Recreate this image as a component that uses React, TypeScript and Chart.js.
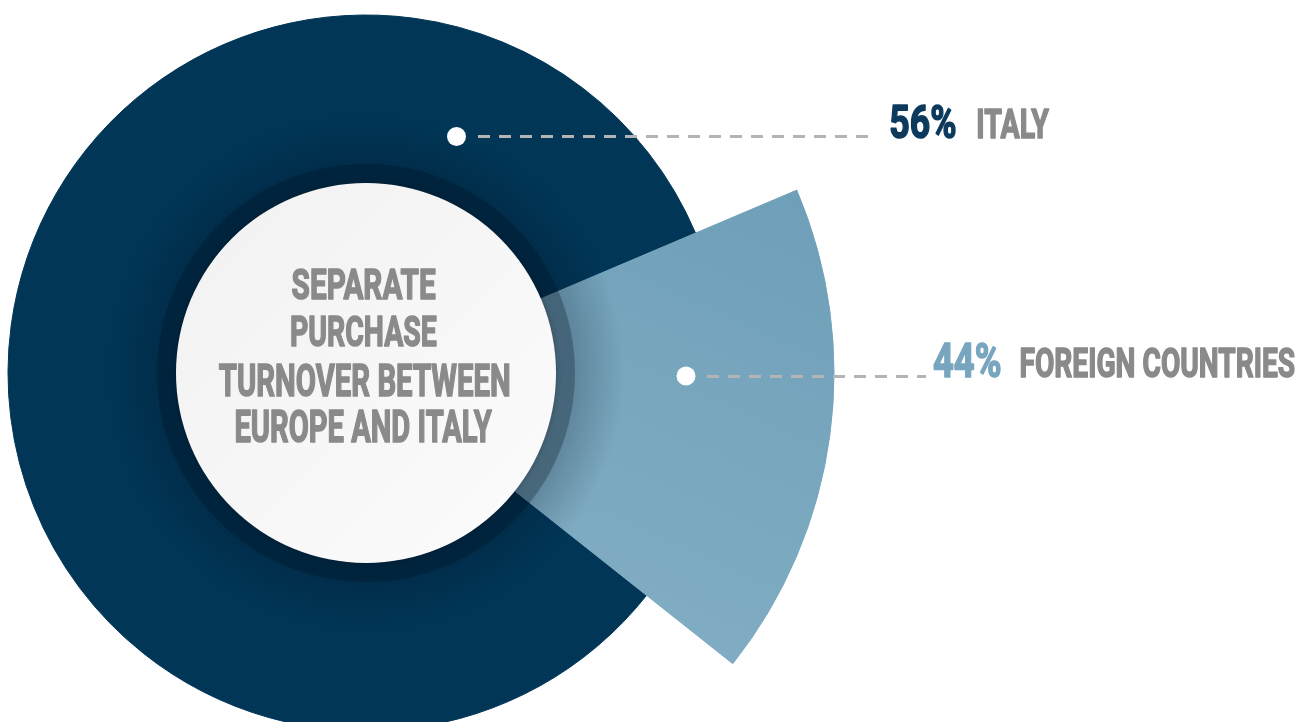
import React, { useEffect, useRef } from 'react';
import { Chart, registerables } from 'chart.js';

Chart.register(...registerables);

// ---- data ----
const categories = ['Italy', 'Foreign countries'];
const percentages = [56, 44];
// angular size of each segment as drawn in the infographic (degrees)
const drawnArcDegrees = [298.6, 61.4];
const centerTitleLines = ['SEPARATE', 'PURCHASE', 'TURNOVER BETWEEN', 'EUROPE AND ITALY'];

const DARK = '#013657';
const LIGHT = '#76A6BE';
const GRAY_TEXT = '#8a8a8a';
const PCT_COLORS = ['#0c3a5d', '#78a6bf'];

function getCenter(chart: any) {
  const a = chart.chartArea;
  return { cx: (a.left + a.right) / 2, cy: (a.top + a.bottom) / 2 };
}

function lightFill(c: any) {
  const chart = c.chart;
  if (!chart.chartArea) return LIGHT;
  const { cx, cy } = getCenter(chart);
  const g = chart.ctx.createLinearGradient(cx + 440, cy - 200, cx + 220, cy + 290);
  g.addColorStop(0, '#6e9fb8');
  g.addColorStop(1, '#82aec4');
  return g;
}

function outerFill(c: any) {
  return c.dataIndex === 1 ? lightFill(c) : 'rgba(0,0,0,0)';
}
function innerFill(c: any) {
  return c.dataIndex === 1 ? lightFill(c) : DARK;
}

function fitText(
  ctx: CanvasRenderingContext2D,
  text: string,
  x: number,
  baseline: number,
  cap: number,
  width: number,
  color: string,
  align: 'left' | 'center' = 'left'
) {
  const stroke = 1.6;
  const size = (cap - stroke) / 0.711;
  ctx.save();
  ctx.font = `bold ${size}px Roboto, "Liberation Sans", sans-serif`;
  ctx.textAlign = 'left';
  ctx.textBaseline = 'alphabetic';
  const m = ctx.measureText(text);
  const ink = m.actualBoundingBoxRight + m.actualBoundingBoxLeft;
  const sx = (width - stroke) / ink;
  const left = align === 'center' ? x - width / 2 : x;
  ctx.translate(left + stroke / 2 + m.actualBoundingBoxLeft * sx, baseline - stroke / 2);
  ctx.scale(sx, 1);
  ctx.fillStyle = color;
  ctx.strokeStyle = color;
  ctx.lineJoin = 'round';
  ctx.lineWidth = stroke;
  ctx.fillText(text, 0, 0);
  ctx.strokeText(text, 0, 0);
  ctx.restore();
}

const overlayPlugin = {
  id: 'overlay',
  afterDatasetsDraw(chart: any) {
    const ctx: CanvasRenderingContext2D = chart.ctx;
    const { cx, cy } = getCenter(chart);
    const TAU = Math.PI * 2;
    ctx.save();
    // soft shadow around the hub
    const g = ctx.createRadialGradient(cx, cy, 206, cx, cy, 258);
    g.addColorStop(0, 'rgba(0,12,28,0.22)');
    g.addColorStop(1, 'rgba(0,12,28,0)');
    ctx.beginPath();
    ctx.arc(cx, cy, 258, 0, TAU);
    ctx.arc(cx, cy, 189, 0, TAU, true);
    ctx.fillStyle = g;
    ctx.fill();
    // darker band
    ctx.beginPath();
    ctx.arc(cx, cy, 209, 0, TAU);
    ctx.arc(cx, cy, 189, 0, TAU, true);
    ctx.fillStyle = 'rgba(0,12,28,0.26)';
    ctx.fill();
    // white hub
    ctx.shadowColor = 'rgba(0,0,0,0.25)';
    ctx.shadowBlur = 6;
    const wg = ctx.createLinearGradient(cx - 190, cy - 190, cx + 190, cy + 190);
    wg.addColorStop(0, '#f1f1f1');
    wg.addColorStop(1, '#fcfcfc');
    ctx.beginPath();
    ctx.arc(cx, cy, 190, 0, TAU);
    ctx.fillStyle = wg;
    ctx.fill();
    ctx.restore();

    // centre title
    const baselines = [300, 347, 397, 443];
    const caps = [32, 32, 33, 33];
    const widths = [145, 147, 292, 258];
    centerTitleLines.forEach((t, i) => {
      fitText(ctx, t, cx - 2, baselines[i], caps[i], widths[i], GRAY_TEXT, 'center');
    });
  },
  afterDraw(chart: any) {
    const ctx: CanvasRenderingContext2D = chart.ctx;
    // leader lines
    const leaders = [
      { dot: [456.5, 136.5], from: 478, to: 876, y: 136.5 },
      { dot: [686, 376], from: 707, to: 926, y: 376.5 },
    ];
    ctx.save();
    leaders.forEach((l) => {
      ctx.beginPath();
      ctx.setLineDash([12, 9]);
      ctx.lineWidth = 3;
      ctx.strokeStyle = '#b4b4b4';
      ctx.moveTo(l.from, l.y);
      ctx.lineTo(l.to, l.y);
      ctx.stroke();
      ctx.setLineDash([]);
      ctx.beginPath();
      ctx.arc(l.dot[0], l.dot[1], 9.5, 0, Math.PI * 2);
      ctx.fillStyle = '#ffffff';
      ctx.fill();
    });
    ctx.restore();

    // labels
    fitText(ctx, `${percentages[0]}%`, 890, 138.5, 35, 66, PCT_COLORS[0]);
    fitText(ctx, categories[0].toUpperCase(), 977, 138.5, 30, 73, GRAY_TEXT);
    fitText(ctx, `${percentages[1]}%`, 933, 378, 36, 68, PCT_COLORS[1]);
    fitText(ctx, categories[1].toUpperCase(), 1020, 378, 31, 275, GRAY_TEXT);
  },
};

export default function App() {
  const ref = useRef<HTMLCanvasElement | null>(null);
  useEffect(() => {
    if (!ref.current) return;
    const chart = new Chart(ref.current, {
      type: 'doughnut',
      data: {
        labels: categories,
        datasets: [
          {
            data: drawnArcDegrees,
            backgroundColor: outerFill as any,
            borderColor: outerFill as any,
            borderWidth: 1,
            weight: 110,
            clip: false,
          } as any,
          {
            data: drawnArcDegrees,
            backgroundColor: innerFill as any,
            borderColor: innerFill as any,
            borderWidth: 1,
            weight: 168,
            clip: false,
          } as any,
        ],
      },
      options: {
        animation: false,
        responsive: true,
        maintainAspectRatio: false,
        events: [],
        radius: 468,
        cutout: '40.6%',
        rotation: 128.4,
        circumference: 360,
        layout: { padding: { top: 24, right: 567, bottom: 0, left: 0 } },
        plugins: {
          legend: { display: false },
          tooltip: { enabled: false },
        },
      } as any,
      plugins: [overlayPlugin],
    });
    return () => chart.destroy();
  }, []);
  return (
    <div
      style={{
        position: 'fixed',
        left: 0,
        top: 0,
        width: 1299,
        height: 722,
        background: '#ffffff',
      }}
    >
      <canvas ref={ref} />
    </div>
  );
}
